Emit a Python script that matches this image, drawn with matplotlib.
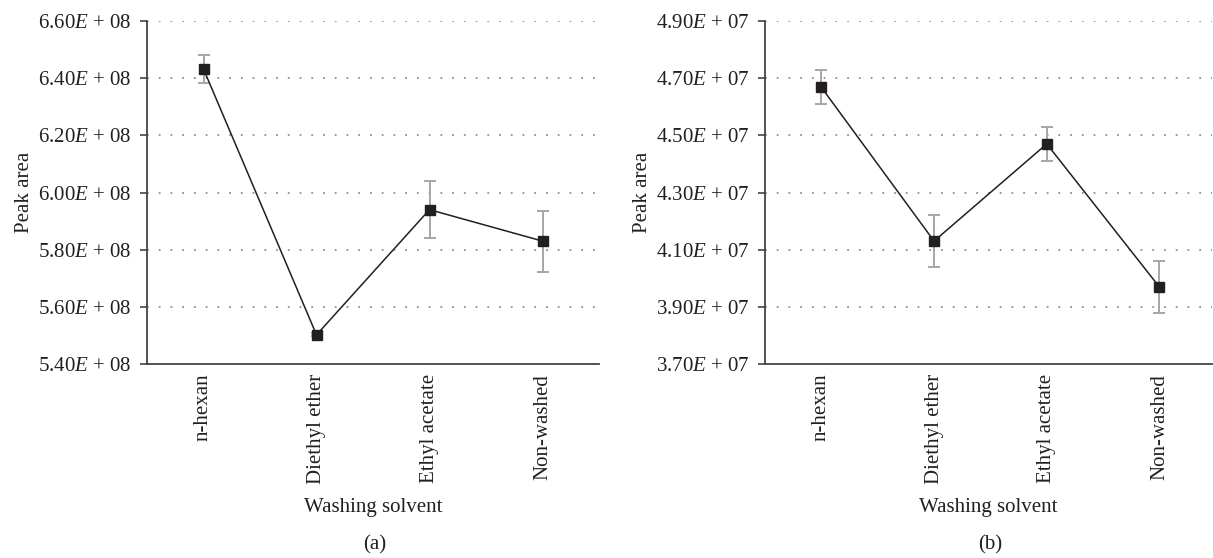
import matplotlib
matplotlib.use("Agg")
import matplotlib.pyplot as plt
from matplotlib.ticker import FuncFormatter

plt.rcParams["font.family"] = ["Liberation Serif", "DejaVu Serif"]
plt.rcParams["mathtext.fontset"] = "custom"
plt.rcParams["mathtext.it"] = "Liberation Serif:italic"
plt.rcParams["mathtext.rm"] = "Liberation Serif"

# Data
solvents = ["n-hexan", "Diethyl ether", "Ethyl acetate", "Non-washed"]
peak_a = [6.432e8, 5.502e8, 5.94e8, 5.83e8]
err_a = [0.05e8, 0.005e8, 0.10e8, 0.107e8]
peak_b = [4.668e7, 4.13e7, 4.47e7, 3.969e7]
err_b = [0.06e7, 0.09e7, 0.06e7, 0.09e7]
yticks_a = [5.4e8, 5.6e8, 5.8e8, 6.0e8, 6.2e8, 6.4e8, 6.6e8]
yticks_b = [3.7e7, 3.9e7, 4.1e7, 4.3e7, 4.5e7, 4.7e7, 4.9e7]

TEXT = "#231f20"
FS = 15
W, H = 1213, 558
fig = plt.figure(figsize=(W / 100, H / 100), dpi=100)


def sci_fmt(v, pos):
    exp = len(str(int(v))) - 1
    mant = v / 10 ** exp
    return f"{mant:.2f}$E$ + {exp:02d}"


def panel(rect, values, errs, ticks, xmax, letter, letter_x):
    ax = fig.add_axes(rect)
    x = list(range(len(solvents)))
    ax.errorbar(x, values, yerr=errs, fmt="none", ecolor="#a6a6a6",
                elinewidth=1.4, capsize=4.5, capthick=1.4, zorder=2)
    ax.plot(x, values, color=TEXT, lw=1.1, marker="s", markersize=6.5,
            markerfacecolor=TEXT, markeredgecolor=TEXT, zorder=3)
    ax.set_xlim(-0.5, xmax)
    ax.set_ylim(ticks[0], ticks[-1])
    ax.set_yticks(ticks)
    ax.yaxis.set_major_formatter(FuncFormatter(sci_fmt))
    ax.set_xticks(x)
    ax.set_xticklabels(solvents, rotation=90, color=TEXT, fontsize=FS)
    ax.tick_params(axis="x", length=0, pad=7)
    ax.tick_params(axis="y", length=5, width=1.2, color="#444444",
                   labelsize=FS, labelcolor=TEXT, pad=6)
    for t in ticks[1:]:
        ax.axhline(t, color="#909090", lw=1.3, ls=(0, (1, 5.5)), zorder=1)
    for s in ("top", "right"):
        ax.spines[s].set_visible(False)
    for s in ("left", "bottom"):
        ax.spines[s].set_color("#444444")
        ax.spines[s].set_linewidth(1.3)
    ax.set_xlabel("Washing solvent", fontsize=FS, color=TEXT, labelpad=10)
    ax.set_ylabel("Peak area", fontsize=FS, color=TEXT, labelpad=3)
    fig.text(letter_x, 1 - 545 / H, letter, ha="center", va="center",
             fontsize=FS, color=TEXT)
    return ax


bottom = 1 - 364 / H
height = (364 - 21) / H
panel([147 / W, bottom, 452 / W, height], peak_a, err_a, yticks_a, 3.5,
      "(a)", 375 / W)
panel([765 / W, bottom, 447 / W, height], peak_b, err_b, yticks_b, 3.466,
      "(b)", 990 / W)

fig.savefig("out.png", dpi=100)
